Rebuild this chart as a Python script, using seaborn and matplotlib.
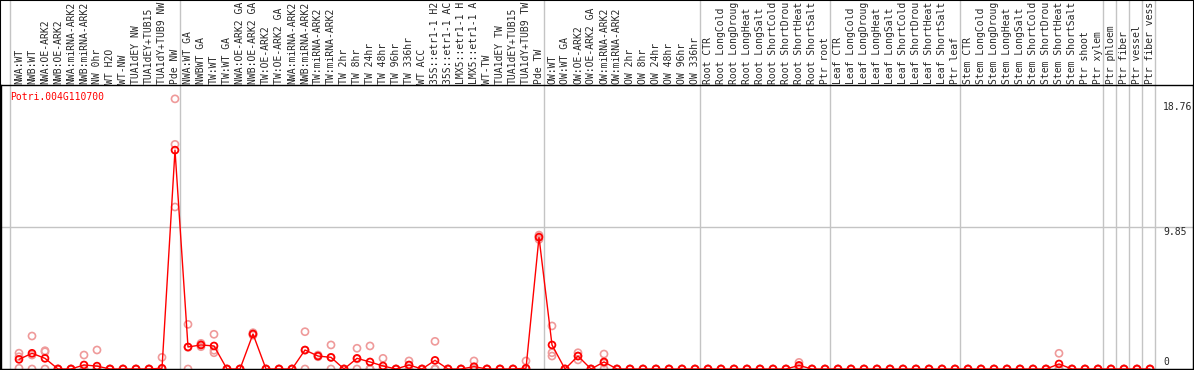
"""Expression profile of Potri.004G110700 across Populus samples."""

import matplotlib

matplotlib.use("Agg")
import matplotlib.pyplot as plt
import matplotlib.transforms as mtransforms
import numpy as np
import pandas as pd
import seaborn as sns
from matplotlib.patches import Rectangle

GENE = "Potri.004G110700"

# sample names as they show in the header (long ones are cut at the top edge)
nw_labels = [
    "NWA:WT", "NWB:WT", "NWA:OE-ARK2", "NWB:OE-ARK2", "NWA:miRNA-ARK2",
    "NWB:miRNA-ARK2", "NW 0hr", "WT H2O", "WT-NW", "TUA1dEY NW",
    "TUA1dEY+TUB15", "TUA1dY+TUB9 NW", "Pde NW",
]
tw_labels = [
    "NWA:WT GA", "NWBWT GA", "TW:WT", "TW:WT GA", "NWA:OE-ARK2 GA",
    "NWB:OE-ARK2 GA", "TW:OE-ARK2", "TW:OE-ARK2 GA", "NWA:miRNA-ARK2",
    "NWB:miRNA-ARK2", "TW:miRNA-ARK2", "TW:miRNA-ARK2", "TW 2hr", "TW 8hr",
    "TW 24hr", "TW 48hr", "TW 96hr", "TW 336hr", "WT ACC", "35S::etr1-1 H2",
    "35S::etr1-1 AC", "LMX5::etr1-1 H", "LMX5::etr1-1 A", "WT-TW",
    "TUA1dEY TW", "TUA1dEY+TUB15", "TUA1dY+TUB9 TW", "Pde TW",
]
ow_labels = [
    "OW:WT", "OW:WT GA", "OW:OE-ARK2", "OW:OE-ARK2 GA", "OW:miRNA-ARK2",
    "OW:miRNA-ARK2", "OW 2hr", "OW 8hr", "OW 24hr", "OW 48hr", "OW 96hr",
    "OW 336hr",
]
stress = ["CTR", "LongCold", "LongDroug", "LongHeat", "LongSalt",
          "ShortCold", "ShortDrou", "ShortHeat", "ShortSalt"]
root_labels = [f"Root {s}" for s in stress] + ["Ptr root"]
leaf_labels = [f"Leaf {s}" for s in stress] + ["Ptr leaf"]
stem_labels = [f"Stem {s}" for s in stress] + ["Ptr shoot", "Ptr xylem"]
ptr_groups = [["Ptr phloem"], ["Ptr fiber"], ["Ptr vessel"], ["Ptr fiber vess"]]

groups = [nw_labels, tw_labels, ow_labels, root_labels, leaf_labels, stem_labels, *ptr_groups]
labels = [lab for g in groups for lab in g]

mean_expr = [
    0.67, 1.09, 0.74, 0, 0, 0.28, 0.2, 0, 0, 0, 0, 0.05, 15.2,
    1.53, 1.67, 1.6, 0, 0, 2.43, 0, 0, 0, 1.32, 0.9, 0.81, 0, 0.74, 0.49, 0.21,
    0, 0.28, 0, 0.6, 0, 0, 0.16, 0, 0, 0, 0.05, 9.15,
    1.67, 0, 0.9, 0, 0.49, 0, 0, 0, 0, 0, 0, 0,
    0, 0, 0, 0, 0, 0, 0, 0.25, 0, 0,
    0, 0, 0, 0, 0, 0, 0, 0, 0, 0,
    0, 0, 0, 0, 0, 0, 0, 0.35, 0, 0, 0,
    0, 0, 0, 0,
]
rep1 = [
    1.1, 2.29, 1.27, 0, 0, 0.97, 1.32, 0, 0, 0, 0, 0.81, 18.76,
    3.1, 1.78, 2.41, 0, 0, 2.52, 0, 0, 0, 2.59, 0.97, 1.67, 0, 1.44, 1.6, 0.74,
    0, 0.56, 0, 1.92, 0, 0, 0.56, 0, 0, 0, 0.56, 9.3,
    2.99, 0, 1.13, 0, 1.04, 0, 0, 0, 0, 0, 0, 0,
    0, 0, 0, 0, 0, 0, 0, 0.46, 0, 0,
    0, 0, 0, 0, 0, 0, 0, 0, 0, 0,
    0, 0, 0, 0, 0, 0, 0, 1.09, 0, 0, 0,
    0, 0, 0, 0,
]
rep2 = [
    0.85, 0.97, 1.2, 0, 0, 0, 0, 0, 0, 0, 0, 0, 11.25,
    1.5, 1.7, 1.13, 0, 0, 2.4, 0, 0, 0, 1.3, 0.9, 0.8, 0, 0.7, 0, 0,
    0, 0.25, 0, 0, 0, 0, 0, 0, 0, 0, 0, 9.2,
    1.13, 0, 0.63, 0, 0.4, 0, 0, 0, 0, 0, 0, 0,
    0, 0, 0, 0, 0, 0, 0, 0.1, 0, 0,
    0, 0, 0, 0, 0, 0, 0, 0, 0, 0,
    0, 0, 0, 0, 0, 0, 0, 0, 0, 0, 0,
    0, 0, 0, 0,
]
rep3 = [
    0.05, 0, 0, 0, 0, 0, 0, 0, 0, 0, 0, 0, 15.6,
    0, 1.55, 1.3, 0, 0, 2.35, 0, 0, 0, 0, 0.85, 0, 0, 0, 0, 0,
    0, 0, 0, 0, 0, 0, 0, 0, 0, 0, 0, 9.0,
    0.9, 0, 0.9, 0, 0, 0, 0, 0, 0, 0, 0, 0,
    0, 0, 0, 0, 0, 0, 0, 0.2, 0, 0,
    0, 0, 0, 0, 0, 0, 0, 0, 0, 0,
    0, 0, 0, 0, 0, 0, 0, 0, 0, 0, 0,
    0, 0, 0, 0,
]
y_ticks = [18.76, 9.85, 0]

RED = "#ff0000"
PALE = "#ef9a9a"
GRID = "#c4c4c4"

# pixel layout of the original image
W, H = 1194, 370
AX_LEFT, AX_RIGHT, AX_TOP, AX_BOTTOM = 1, 1193, 85, 369
X0, STEP = 19, 13          # pixel of sample 0, pixel spacing between samples
PX_PER_UNIT = 14.4


def main() -> None:
    sns.set_style("white")
    plt.rcParams["font.family"] = ["DejaVu Sans Mono"]
    plt.rcParams["font.size"] = 7.0

    n = len(labels)
    idx = np.arange(n)
    mean_df = pd.DataFrame({"idx": idx, "expr": mean_expr})
    rep_df = pd.DataFrame(
        {"idx": np.tile(idx, 3), "expr": np.concatenate([rep1, rep2, rep3])}
    )

    fig = plt.figure(figsize=(W / 100, H / 100), dpi=100)
    ax = fig.add_axes([
        AX_LEFT / W,
        (H - AX_BOTTOM) / H,
        (AX_RIGHT - AX_LEFT) / W,
        (AX_BOTTOM - AX_TOP) / H,
    ])

    xmin = -(X0 - AX_LEFT) / STEP
    ax.set_xlim(xmin, xmin + (AX_RIGHT - AX_LEFT) / STEP)
    ax.set_ylim(0, (AX_BOTTOM - AX_TOP) / PX_PER_UNIT)

    # group separators run through the header as well
    ymax_ext = AX_BOTTOM / (AX_BOTTOM - AX_TOP)
    starts = np.cumsum([0] + [len(g) for g in groups])
    for k, s in enumerate(starts):
        pos = s - 0.58 if k > 0 else s - 0.7
        ax.axvline(pos, ymin=0, ymax=ymax_ext, color=GRID, lw=1, clip_on=False, zorder=1)
    ax.axhline(9.85, color=GRID, lw=1, zorder=1)

    sns.scatterplot(data=rep_df, x="idx", y="expr", ax=ax, marker="o", s=26,
                    facecolor="none", edgecolor=PALE, linewidth=1.2, zorder=2, legend=False)
    sns.lineplot(data=mean_df, x="idx", y="expr", ax=ax, color=RED, lw=1, zorder=3)
    sns.scatterplot(data=mean_df, x="idx", y="expr", ax=ax, marker="o", s=24,
                    facecolor="none", edgecolor=RED, linewidth=1.3, zorder=4, legend=False)

    ax.set_xticks([])
    ax.set_yticks([])
    ax.set_xlabel("")
    ax.set_ylabel("")
    for sp in ax.spines.values():
        sp.set_color("black")
        sp.set_linewidth(1)

    # sample names in the header, rotated
    hdr = mtransforms.blended_transform_factory(ax.transData, ax.transAxes)
    for i, lab in enumerate(labels):
        ax.annotate(lab, xy=(i, 1), xycoords=hdr, xytext=(0, 0.6),
                    textcoords="offset points", rotation=90, ha="center",
                    va="bottom", annotation_clip=False)

    ax.text((10 - AX_LEFT) / (AX_RIGHT - AX_LEFT), 1 - (97 - AX_TOP) / (AX_BOTTOM - AX_TOP),
            GENE, color=RED, transform=ax.transAxes, va="center", ha="left")

    tick_tr = mtransforms.blended_transform_factory(ax.transAxes, ax.transData)
    tx = (1163 - AX_LEFT) / (AX_RIGHT - AX_LEFT)
    for v in y_ticks:
        if v == 0:
            ax.annotate("0", xy=(tx, v), xycoords=tick_tr, xytext=(0, 1.5),
                        textcoords="offset points", va="bottom", ha="left")
        elif v > 15:
            ax.annotate(f"{v:.2f}", xy=(tx, v), xycoords=tick_tr, xytext=(0, -2),
                        textcoords="offset points", va="top", ha="left")
        else:
            ax.annotate(f"{v:.2f}", xy=(tx, v), xycoords=tick_tr, xytext=(0, 0),
                        textcoords="offset points", va="top", ha="left")

    fig.patches.append(Rectangle((0, 0), 1, 1, transform=fig.transFigure, fill=False,
                                 edgecolor="black", lw=1.5))
    fig.savefig("out.png", dpi=100)
    plt.close(fig)


if __name__ == "__main__":
    main()
